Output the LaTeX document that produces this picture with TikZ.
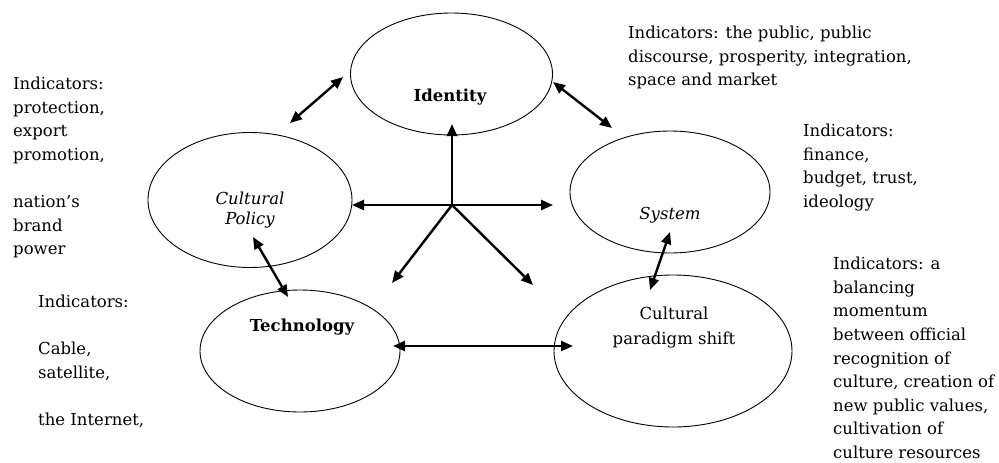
\documentclass[tikz,border=0pt]{standalone}
\usepackage{fontspec}
\setmainfont{DejaVu Serif}
\usetikzlibrary{arrows.meta,shapes.geometric}
\begin{document}
\begin{tikzpicture}[x=1pt,y=-1pt,
  bubble/.style={draw, ellipse, line width=0.9pt, inner sep=0pt},
  note/.style={anchor=north west, inner sep=0pt, align=left,
    font=\fontsize{16.5}{23.6}\selectfont},
  tag/.style={inner sep=0pt, align=center},
  tip/.style={Triangle[length=12pt,width=10pt]},
  link/.style={line width=2.4pt, {Triangle[length=12pt,width=10pt]}-{Triangle[length=12pt,width=10pt]}},
  ray/.style={line width=2.4pt, -{Triangle[length=12pt,width=10pt]}}
]
\useasboundingbox (0,0) rectangle (999,463);

% the five ellipses
\node[bubble, minimum width=202pt, minimum height=122pt] (identity) at (451.5,74) {};
\node[bubble, minimum width=204pt, minimum height=135pt] (policy) at (250,200) {};
\node[bubble, minimum width=200pt, minimum height=122pt] (tech) at (300,351) {};
\node[bubble, minimum width=200pt, minimum height=122pt] (system) at (670,192) {};
\node[bubble, minimum width=238pt, minimum height=152pt] (shift) at (673,351) {};

% ellipse captions
\node[tag, font=\fontsize{16.5}{20}\selectfont\bfseries] (identitylbl) at (450,97) {Identity};
\node[tag, font=\fontsize{16.5}{20}\selectfont\itshape] (policylbl) at (250,210) {Cultural\\Policy};
\node[tag, font=\fontsize{16.5}{20}\selectfont\bfseries] (techlbl) at (302,327) {Technology};
\node[tag, font=\fontsize{16.5}{20}\selectfont\itshape] (systemlbl) at (670,215) {System};
\node[tag, font=\fontsize{16.5}{25}\selectfont] (shiftlbl) at (674,327.5) {Cultural\\paradigm shift};

% indicator notes
\node[note] (notepolicy) at (13,77) {Indicators:\\protection,\\export\\promotion,\\[23.6pt]nation's\\brand\\power};
\node[note] (notetech) at (38,295) {Indicators:\\[23.6pt]Cable,\\satellite,\\[23.6pt]the Internet,};
\node[note] (noteidentity) at (628,26) {Indicators: the public, public\\discourse, prosperity, integration,\\space and market};
\node[note] (notesystem) at (803,124) {Indicators:\\finance,\\budget, trust,\\ideology};
\node[note] (noteshift) at (833,257) {Indicators: a\\balancing\\momentum\\between official\\recognition of\\culture, creation of\\new public values,\\cultivation of\\culture resources};

% arrow end points
\coordinate (hub) at (452,205);
\coordinate (hubN) at (452,124);
\coordinate (hubW) at (352,205);
\coordinate (hubE) at (553,205);
\coordinate (hubSW) at (392,283);
\coordinate (hubSE) at (533,285);
\coordinate (ipA) at (290,123);
\coordinate (ipB) at (343,77);
\coordinate (isA) at (553,82);
\coordinate (isB) at (612,128);
\coordinate (ptA) at (253,237);
\coordinate (ptB) at (288,297);
\coordinate (tsA) at (393,346);
\coordinate (tsB) at (573,346);
\coordinate (ssA) at (670,232);
\coordinate (ssB) at (650,290);

% star of arrows from the centre
\foreach \e in {hubN,hubW,hubE,hubSW,hubSE}
  \draw[ray] (hub) -- (\e);

% two-headed links between neighbouring ellipses
\draw[link] (ipA) -- (ipB);
\draw[link] (isA) -- (isB);
\draw[link] (ptA) -- (ptB);
\draw[link] (tsA) -- (tsB);
\draw[link] (ssA) -- (ssB);
\end{tikzpicture}
\end{document}
